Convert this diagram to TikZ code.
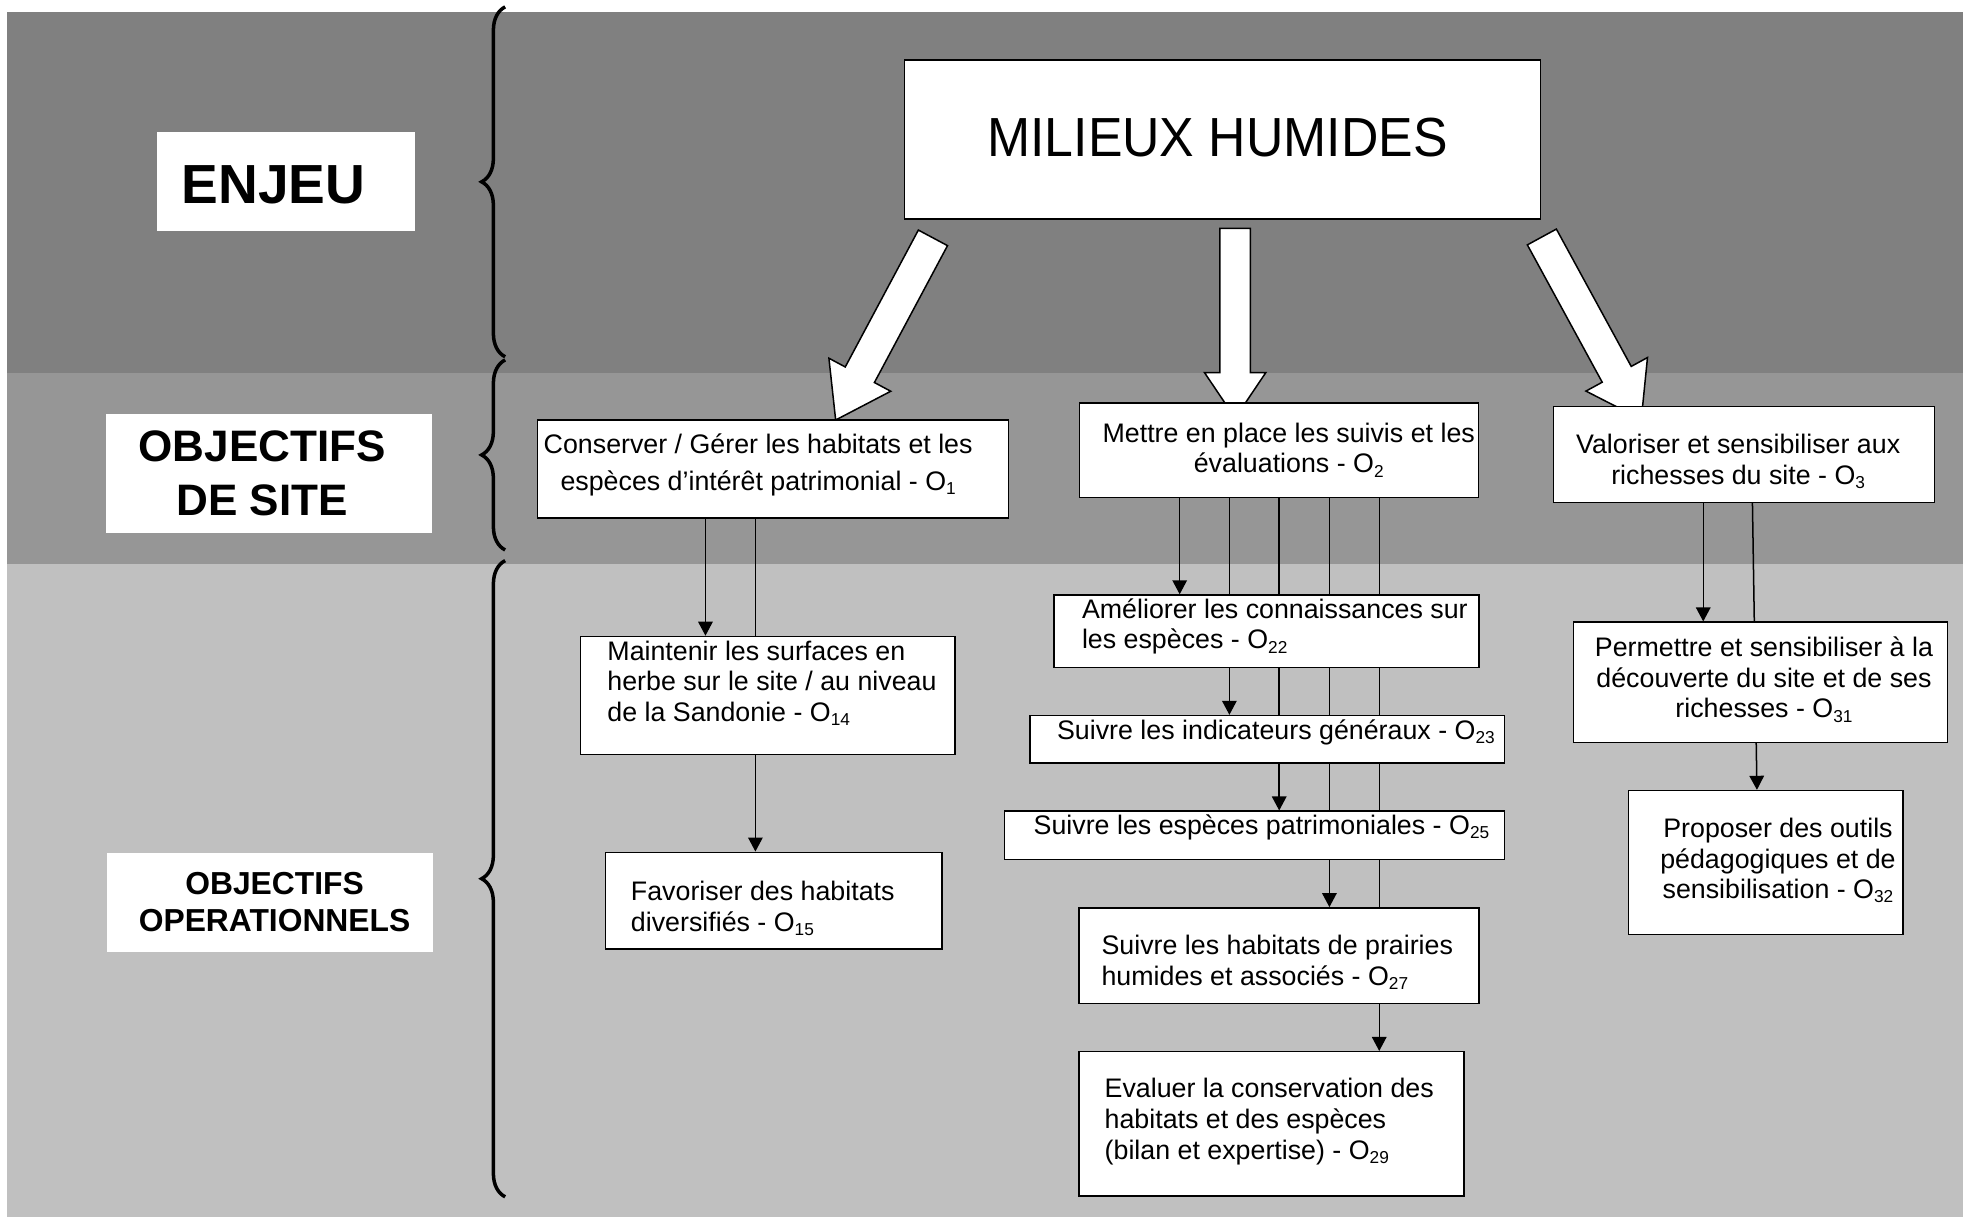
\documentclass[tikz,border=0pt]{standalone}
\usepackage{fontspec}
\usepackage{graphicx}
\setmainfont{Liberation Sans}
\usetikzlibrary{arrows.meta,calc,decorations.pathreplacing}
\definecolor{bandA}{gray}{0.502}
\definecolor{bandB}{gray}{0.588}
\definecolor{bandC}{gray}{0.753}
\newcommand\Osub[1]{O\raisebox{-0.3ex}{\fontsize{6.9}{8}\selectfont #1}}
\pgfdeclarelayer{bg}
\pgfdeclarelayer{links}
\pgfsetlayers{bg,links,main}
% block arrow: #1 start coordinate, #2 tip coordinate, #3 shaft half width, #4 head half width, #5 head length
\newcommand\blockarrow[5]{%
  \coordinate (#1h) at ($(#2)!#5!(#1)$);
  \draw[fat] ($(#1)!#3!90:(#2)$) -- ($(#1h)!#3!90:(#2)$) -- ($(#1h)!#4!90:(#2)$) -- (#2)
    -- ($(#1h)!#4!-90:(#2)$) -- ($(#1h)!#3!-90:(#2)$) -- ($(#1)!#3!-90:(#2)$) -- cycle;}
\begin{document}
\begin{tikzpicture}[x=0.5pt,y=-0.5pt,
  box/.style={draw=black, fill=white, line width=0.6pt, inner sep=0pt},
  plate/.style={fill=white, inner sep=0pt},
  txt/.style={inner sep=0pt, font=\fontsize{10.7}{12.2}\selectfont},
  conn/.style={line width=0.6pt},
  arr/.style={conn, -{Triangle[length=5.6pt,width=5.8pt]}},
  fat/.style={draw=black, fill=white, line width=0.6pt, line join=miter},
  bracket/.style={decorate, decoration={brace, amplitude=9.4pt}, line width=1.4pt},
]
\useasboundingbox (0,0) rectangle (1568,972);
\begin{pgfonlayer}{bg}
% bands
\fill[bandA] (5.5,9.6) rectangle (1568,298);
\fill[bandB] (5.5,298) rectangle (1568,450.4);
\fill[bandC] (5.5,450.4) rectangle (1568,972);
% braces
\draw[bracket] (403.5,285) -- (403.5,5.5);
\draw[bracket] (403.5,439.3) -- (403.5,287.5);
\draw[bracket] (403.5,956) -- (403.5,447.8);
% block arrows
\coordinate (fa1s) at (745.2,190);   \coordinate (fa1t) at (667.5,335.5);
\coordinate (fa2s) at (986.6,182.4); \coordinate (fa2t) at (986.6,334);
\coordinate (fa3s) at (1231.6,189.3);\coordinate (fa3t) at (1311,335);
\blockarrow{fa1s}{fa1t}{6.6pt}{14pt}{20.5pt}
\blockarrow{fa2s}{fa2t}{6.1pt}{12.25pt}{18.2pt}
\blockarrow{fa3s}{fa3t}{6.6pt}{14pt}{20.5pt}
\end{pgfonlayer}
% left labels
\node[plate, minimum width=103pt, minimum height=39.5pt] (enjeubox) at (228.5,145) {};
\node[inner sep=0pt, font=\fontsize{22}{26}\selectfont\bfseries] (enjeu) at (218.5,147.7) {ENJEU};
\node[plate, minimum width=130.3pt, minimum height=47.5pt] (sitebox) at (214.9,378) {};
\node[inner sep=0pt, align=center, font=\fontsize{17.6}{21.4}\selectfont\bfseries] (site) at (209.5,378) {OBJECTIFS\\DE SITE};
\node[plate, minimum width=130.2pt, minimum height=39.6pt] (opbox) at (215.7,720.6) {};
\node[inner sep=0pt, align=center, font=\fontsize{12.7}{14.5}\selectfont\bfseries] (op) at (219.3,720.5) {OBJECTIFS\\OPERATIONNELS};
% top issue
\node[box, minimum width=254pt, minimum height=63.5pt] (mh) at (976.6,111.4) {};
\node[inner sep=0pt, font=\fontsize{22}{26}\selectfont] (mht) at (972.5,110.2) {\scalebox{0.94}[1]{MILIEUX HUMIDES}};
% site objective boxes
\node[box, minimum width=188pt, minimum height=39.2pt] (o1) at (617.4,374.5) {};
\node[box, minimum width=159.4pt, minimum height=37.7pt] (o2) at (1021.7,359.8) {};
\node[box, minimum width=152.2pt, minimum height=38.2pt] (o3) at (1392.9,363) {};
% operational boxes
\node[box, minimum width=149.5pt, minimum height=47.2pt] (o14) at (613.3,555.6) {};
\node[box, minimum width=134.4pt, minimum height=38.6pt] (o15) at (618,719.4) {};
\node[box, minimum width=169.6pt, minimum height=28.9pt] (o22) at (1011.7,504.2) {};
\node[box, minimum width=189.6pt, minimum height=19pt] (o23) at (1012.2,590.6) {};
\node[box, minimum width=199.7pt, minimum height=19.2pt] (o25) at (1002.1,667.2) {};
\node[box, minimum width=159.7pt, minimum height=38.2pt] (o27) at (1021.7,763.4) {};
\node[box, minimum width=153.6pt, minimum height=57.6pt] (o29) at (1015.6,897.7) {};
\node[box, minimum width=149.5pt, minimum height=48pt] (o31) at (1406.2,545) {};
\node[box, minimum width=109.7pt, minimum height=57.5pt] (o32) at (1410.3,689) {};
% connector columns
\coordinate (k1) at (563.5,0);
\coordinate (k2) at (603.4,0);
\coordinate (k3) at (942.3,0);
\coordinate (k4) at (982,0);
\coordinate (k5) at (1021.8,0);
\coordinate (k6) at (1061.9,0);
\coordinate (k7) at (1101.7,0);
\coordinate (k8) at (1360.5,0);
\coordinate (k9) at (1399.8,0);
\coordinate (k10) at (1403.4,0);
% connectors (behind the boxes)
\begin{pgfonlayer}{links}
\draw[arr] (o1.south -| k1) -- (o14.north -| k1);
\draw[arr] (o1.south -| k2) -- (o15.north -| k2);
\draw[arr] (o2.south -| k3) -- (o22.north -| k3);
\draw[arr] (o2.south -| k4) -- (o23.north -| k4);
\draw[arr] (o2.south -| k5) -- (o25.north -| k5);
\draw[arr] (o2.south -| k6) -- (o27.north -| k6);
\draw[arr] (o2.south -| k7) -- (o29.north -| k7);
\draw[arr] (o3.south -| k8) -- (o31.north -| k8);
\draw[arr] (o3.south -| k9) -- (o32.north -| k10);
\end{pgfonlayer}
% texts
\node[txt, align=center, font=\fontsize{10.7}{15}\selectfont] (o1t) at (605.6,371.2) {Conserver / Gérer les habitats et les\\espèces d’intérêt patrimonial - \Osub{1}};
\node[txt, align=center] (o2t) at (1029.4,359.4) {Mettre en place les suivis et les\\évaluations - \Osub{2}};
\node[txt, align=center] (o3t) at (1388.4,368.7) {Valoriser et sensibiliser aux\\richesses du site - \Osub{3}};
\node[txt, align=left, anchor=west] (o14t) at (484.8,545.6) {Maintenir les surfaces en\\herbe sur le site / au niveau\\de la Sandonie - \Osub{14}};
\node[txt, align=left, anchor=west] (o15t) at (503.6,725.8) {Favoriser des habitats\\diversifiés - \Osub{15}};
\node[txt, align=left, anchor=west] (o22t) at (863.9,500.5) {Améliorer les connaissances sur\\les espèces - \Osub{22}};
\node[txt, align=left, anchor=west] (o23t) at (844,584.8) {Suivre les indicateurs généraux - \Osub{23}};
\node[txt, align=left, anchor=west] (o25t) at (825.3,660.9) {Suivre les espèces patrimoniales - \Osub{25}};
\node[txt, align=left, anchor=west] (o27t) at (879.5,768.6) {Suivre les habitats de prairies\\humides et associés - \Osub{27}};
\node[txt, align=left, anchor=west] (o29t) at (882,895.9) {Evaluer la conservation des\\habitats et des espèces\\(bilan et expertise) - \Osub{29}};
\node[txt, align=center] (o31t) at (1409,542.9) {Permettre et sensibiliser à la\\découverte du site et de ses\\richesses - \Osub{31}};
\node[txt, align=center] (o32t) at (1420.2,687.5) {Proposer des outils\\pédagogiques et de\\sensibilisation - \Osub{32}};
\end{tikzpicture}
\end{document}
